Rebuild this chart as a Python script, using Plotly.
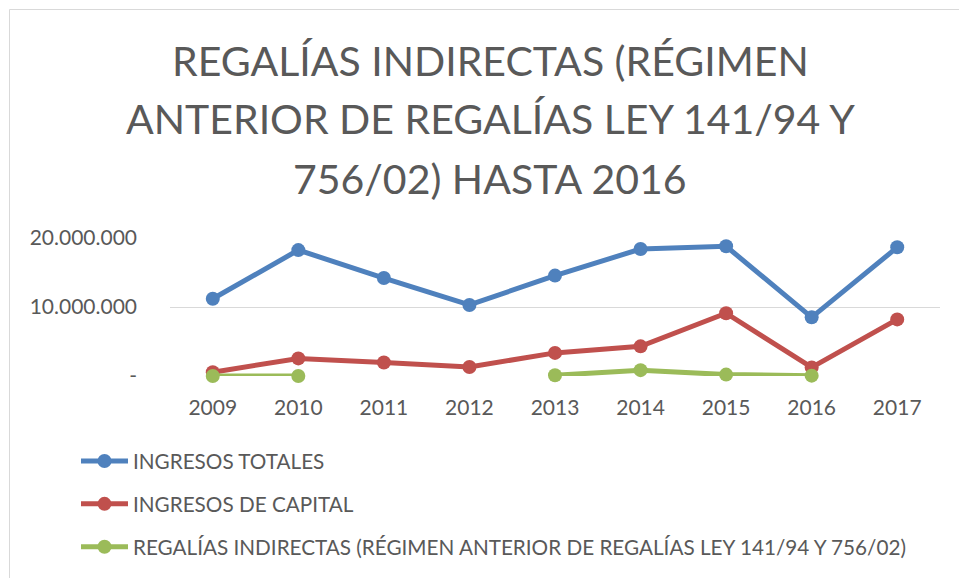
import plotly.graph_objects as go

years = ["2009", "2010", "2011", "2012", "2013", "2014", "2015", "2016", "2017"]
ingresos_totales = [11.2e6, 18.25e6, 14.2e6, 10.3e6, 14.55e6, 18.4e6, 18.8e6, 8.5e6, 18.65e6]
ingresos_capital = [0.55e6, 2.55e6, 1.95e6, 1.3e6, 3.35e6, 4.3e6, 9.1e6, 1.25e6, 8.2e6]
regalias_indirectas = [0.0, 0.0, None, None, 0.1e6, 0.85e6, 0.2e6, 0.05e6, None]

series_names = [
    "INGRESOS TOTALES",
    "INGRESOS DE CAPITAL",
    "REGALÍAS INDIRECTAS (RÉGIMEN ANTERIOR DE REGALÍAS LEY 141/94 Y 756/02)",
]
colors = ["#4F81BD", "#C0504D", "#9BBB59"]
tick_vals = [0, 10e6, 20e6]
tick_text = ["-", "10.000.000", "20.000.000"]
title_lines = ["REGALÍAS INDIRECTAS (RÉGIMEN", "ANTERIOR DE REGALÍAS LEY 141/94 Y", "756/02) HASTA 2016"]

FONT = "Lato, Open Sans, sans-serif"
W, H = 959, 578
L, R, T, B = 170, 19, 238, 202

fig = go.Figure()
for i, (name, vals) in enumerate(zip(series_names, [ingresos_totales, ingresos_capital, regalias_indirectas])):
    fig.add_trace(go.Scatter(
        x=years, y=vals, name=name, mode="lines+markers",
        line=dict(color=colors[i], width=5),
        marker=dict(color=colors[i], size=14),
        cliponaxis=False, connectgaps=False, legendgroup=name,
    ))

plot_h = H - T - B
plot_w = W - L - R
def px_to_x(px):
    return (px - L) / plot_w
def px_to_y(py):
    return (H - B - py) / plot_h

fig.update_layout(
    width=W, height=H,
    margin=dict(l=L, r=R, t=T, b=B, autoexpand=False),
    paper_bgcolor="white", plot_bgcolor="white",
    font=dict(family=FONT, color="#595959"),
    xaxis=dict(type="category", range=[-0.5, 8.5], showgrid=False, showline=False,
               ticks="", tickfont=dict(size=21, color="#595959"), ticklabelstandoff=17, fixedrange=True),
    yaxis=dict(range=[0, 20e6], tickvals=tick_vals, ticktext=tick_text, showgrid=True,
               gridcolor="#D9D9D9", gridwidth=1, zeroline=False, showline=False, ticks="",
               tickfont=dict(size=21, color="#595959"), ticklabelstandoff=32, fixedrange=True),
    showlegend=True,
    legend=dict(orientation="v", x=px_to_x(76), xanchor="left", y=px_to_y(441), yanchor="top",
                font=dict(size=20.7, color="#595959", family=FONT), tracegroupgap=13,
                bgcolor="rgba(0,0,0,0)", itemwidth=47, borderwidth=0),
)
for k, (line, cy) in enumerate(zip(title_lines, [60, 119, 178])):
    fig.add_annotation(text=line, xref="paper", yref="paper", x=px_to_x(490), y=px_to_y(cy),
                       xanchor="center", yanchor="middle", showarrow=False,
                       font=dict(size=41, color="#595959", family=FONT))
fig.add_shape(type="rect", xref="paper", yref="paper",
              x0=px_to_x(9.5), x1=px_to_x(990), y0=px_to_y(9.5), y1=px_to_y(620),
              line=dict(color="#D9D9D9", width=1), fillcolor="rgba(0,0,0,0)", layer="below")

fig.write_html("out.html", config={"displayModeBar": False},
               post_script="document.body.style.margin='0';document.body.style.overflow='hidden';")
